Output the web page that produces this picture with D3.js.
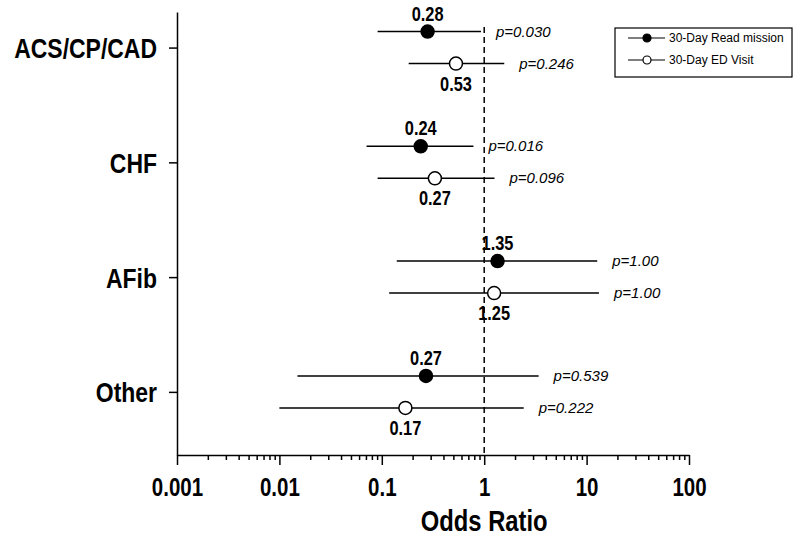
<!DOCTYPE html>
<html>
<head>
<meta charset="utf-8">
<script src="https://cdn.jsdelivr.net/npm/d3@7"></script>
<style>
  body { margin: 0; background: #fff; }
  text { font-family: "Liberation Sans", Arial, sans-serif; fill: #000; }
</style>
</head>
<body>
<svg id="chart" width="795" height="538"></svg>
<script>
// Chart data
var categories = ["ACS/CP/CAD", "CHF", "AFib", "Other"];

// 30-Day Readmission (filled)
var readmit_or = [0.28, 0.24, 1.35, 0.27];
var readmit_lo = [0.091, 0.071, 0.14, 0.015];
var readmit_hi = [0.93, 0.785, 12.7, 3.4];
var readmit_p = ["0.030", "0.016", "1.00", "0.539"];

// 30-Day ED Visit (open)
var ed_or = [0.53, 0.33, 1.25, 0.17];
var ed_labels = ["0.53", "0.27", "1.25", "0.17"];
var ed_lo = [0.183, 0.091, 0.118, 0.010];
var ed_hi = [1.57, 1.26, 13.2, 2.43];
var ed_p = ["0.246", "0.096", "1.00", "0.222"];

var x_ticks = [0.001, 0.01, 0.1, 1, 10, 100];
var x_tick_labels = ["0.001", "0.01", "0.1", "1", "10", "100"];
var legend_labels = ["30-Day Read mission", "30-Day ED Visit"];

var svg = d3.select("#chart");
var narrow = 0.82; // squeeze bold text to look like a narrow face

// place a narrow text at (px, py)
function narrow_text(g, px, py, txt, size, anchor) {
    return g.append("text")
        .attr("transform", "translate(" + px + "," + py + ") scale(" + narrow + ",1)")
        .attr("text-anchor", anchor)
        .style("font-size", size).style("font-weight", "bold")
        .text(txt);
}

// scales
var x = d3.scaleLog().domain([0.001, 100]).range([177, 689]);
var y = d3.scaleLinear().domain([-0.31, 3.55]).range([12, 455]);
var row_offset = 16;

// minor ticks 2..9 in every decade
var minor_ticks = [];
x_ticks.slice(0, -1).forEach(function (d) {
    for (var k = 2; k <= 9; k++) minor_ticks.push(d * k);
});

// x axis: major
var x_axis = svg.append("g")
    .attr("transform", "translate(0," + y.range()[1] + ")")
    .call(d3.axisBottom(x).tickValues(x_ticks).tickSize(10).tickSizeOuter(0)
        .tickFormat(function (d, i) { return x_tick_labels[i]; }));
x_axis.selectAll("text")
    .attr("y", 41).attr("dy", 0)
    .attr("transform", "scale(" + narrow + ",1)")
    .style("font-size", "25px").style("font-weight", "bold");
x_axis.selectAll("line, path").attr("stroke", "#000").attr("stroke-width", 1.5);

// x axis: minor
var x_minor = svg.append("g")
    .attr("transform", "translate(0," + y.range()[1] + ")")
    .call(d3.axisBottom(x).tickValues(minor_ticks).tickSize(5).tickFormat(""));
x_minor.select(".domain").remove();
x_minor.selectAll("line").attr("stroke", "#000").attr("stroke-width", 1.5);

// axis title
narrow_text(svg, x(1), 531, "Odds Ratio", "29px", "middle");

// y axis
var y_axis = svg.append("g")
    .attr("transform", "translate(" + x.range()[0] + ",0)")
    .call(d3.axisLeft(y).tickValues([0, 1, 2, 3]).tickSize(8).tickSizeOuter(0)
        .tickFormat(function (d) { return categories[d]; }));
y_axis.selectAll("text")
    .attr("x", -20 / narrow)
    .attr("dy", "0.36em")
    .attr("transform", "scale(" + narrow + ",1)")
    .style("font-size", "28px").style("font-weight", "bold");
y_axis.selectAll("line, path").attr("stroke", "#000").attr("stroke-width", 1.5);

// reference line at OR = 1
svg.append("line")
    .attr("x1", x(1)).attr("x2", x(1))
    .attr("y1", 27).attr("y2", y.range()[1])
    .attr("stroke", "#000").attr("stroke-width", 1.5)
    .attr("stroke-dasharray", "6,4");

// draw one series
function draw_series(or_vals, lo_vals, hi_vals, p_vals, labels, shift, filled) {
    var g = svg.append("g");
    categories.forEach(function (c, i) {
        var cy = y(i) + shift;
        g.append("line")
            .attr("x1", x(lo_vals[i])).attr("x2", x(hi_vals[i]))
            .attr("y1", cy).attr("y2", cy)
            .attr("stroke", "#000").attr("stroke-width", 1.5);
        g.append("circle")
            .attr("cx", x(or_vals[i])).attr("cy", cy).attr("r", 6.5)
            .attr("fill", filled ? "#000" : "#fff")
            .attr("stroke", "#000").attr("stroke-width", 1.5);
        // value label: above for filled, below for open
        narrow_text(g, x(or_vals[i]), filled ? cy - 11 : cy + 27, labels[i], "20px", "middle");
        // p value
        g.append("text")
            .attr("x", x(hi_vals[i]) + 15)
            .attr("y", cy + 5)
            .style("font-size", "15px").style("font-style", "italic")
            .text("p=" + p_vals[i]);
    });
}

draw_series(readmit_or, readmit_lo, readmit_hi, readmit_p,
    readmit_or.map(function (d) { return d.toFixed(2); }), -row_offset, true);
draw_series(ed_or, ed_lo, ed_hi, ed_p, ed_labels, row_offset, false);

// legend
var legend = svg.append("g");
legend.append("rect")
    .attr("x", 615).attr("y", 28).attr("width", 177).attr("height", 49)
    .attr("fill", "#fff").attr("stroke", "#000").attr("stroke-width", 1.2);
legend_labels.forEach(function (lab, i) {
    var ly = 38 + i * 22;
    legend.append("line")
        .attr("x1", 628).attr("x2", 665).attr("y1", ly).attr("y2", ly)
        .attr("stroke", "#000").attr("stroke-width", 1.2);
    legend.append("circle")
        .attr("cx", 647).attr("cy", ly).attr("r", 4)
        .attr("fill", i == 0 ? "#000" : "#fff")
        .attr("stroke", "#000").attr("stroke-width", 1.2);
    legend.append("text")
        .attr("x", 669).attr("y", ly + 4)
        .style("font-size", "12px")
        .text(lab);
});
</script>
</body>
</html>
